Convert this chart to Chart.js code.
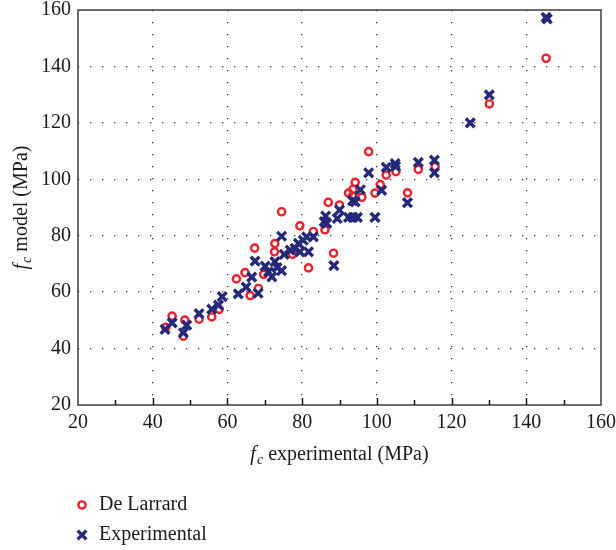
<!DOCTYPE html>
<html>
<head>
<meta charset="utf-8">
<script src="https://cdn.jsdelivr.net/npm/chart.js@4.4.1/dist/chart.umd.min.js"></script>
<style>
  body { margin: 0; background: #fff; }
</style>
</head>
<body>
<canvas id="myChart" width="616" height="550"></canvas>
<script>
// De Larrard model vs experimental strength (MPa)
const larrardX = [43.5, 45.2, 48.6, 48.2, 52.4, 55.8, 57.8, 62.4, 64.7, 66.1, 68.3, 67.3, 69.7, 72.7, 72.6, 74.5, 77.4, 79.4, 83.0, 81.7, 86.1, 87.0, 88.4, 90.0, 92.4, 93.6, 93.5, 94.2, 96.0, 97.8, 99.5, 100.9, 102.5, 105.1, 108.2, 111.1, 115.6, 130.1, 145.3];
const larrardY = [47.5, 51.5, 50.1, 44.4, 50.4, 51.2, 53.9, 64.7, 66.9, 58.8, 61.3, 75.6, 66.3, 77.2, 74.3, 88.5, 73.4, 83.5, 81.5, 68.6, 82.1, 91.8, 73.8, 90.9, 95.1, 96.4, 94.0, 98.9, 93.6, 109.8, 95.1, 98.1, 101.5, 102.7, 95.2, 103.5, 104.5, 126.7, 142.9];

const experimentalX = [43.3, 45.2, 49.1, 48.2, 52.4, 55.8, 57.6, 58.6, 62.9, 65.0, 66.5, 68.2, 67.4, 70.1, 71.0, 71.9, 72.7, 74.5, 73.3, 74.5, 75.2, 76.8, 78.1, 79.0, 80.3, 81.2, 79.4, 81.7, 83.0, 85.9, 86.3, 86.6, 88.5, 89.4, 90.0, 92.4, 93.6, 94.8, 93.5, 94.2, 95.6, 97.8, 99.5, 101.3, 102.5, 104.9, 105.0, 108.2, 111.1, 115.4, 115.4, 125.0, 130.1, 145.6, 145.3];
const experimentalY = [46.8, 49.1, 48.3, 45.6, 52.4, 54.0, 55.4, 58.4, 59.4, 61.8, 65.3, 59.6, 71.0, 69.2, 67.2, 65.4, 70.8, 67.6, 68.7, 79.8, 73.4, 74.9, 75.5, 77.3, 78.4, 79.6, 74.3, 74.3, 79.6, 85.0, 87.0, 84.4, 69.4, 86.1, 89.1, 86.5, 86.5, 86.5, 92.4, 92.0, 96.3, 102.3, 86.5, 96.1, 104.2, 105.6, 104.6, 91.7, 106.0, 106.8, 102.3, 120.0, 129.9, 156.8, 157.4];

const axisMin = 20;
const axisMax = 160;

const RED = '#e8232d';
const NAVY = '#25297a';
const SERIF = '"Liberation Serif", "DejaVu Serif", serif';

function toPoints(xs, ys) {
    return xs.map((x, i) => ({ x: x, y: ys[i] }));
}

function majorGrid(ctx) {
    const v = ctx.tick ? ctx.tick.value : null;
    if (v === null || v % 20 !== 0 || v <= axisMin || v >= axisMax) return 'rgba(0,0,0,0)';
    return '#333';
}

// box round the plot and inward tick marks on the bottom axis
const framePlugin = {
    id: 'frame',
    beforeDatasetsDraw(chart) {
        const { ctx, chartArea: a, scales } = chart;
        ctx.save();
        ctx.strokeStyle = '#3c3c3c';
        ctx.lineWidth = 1.5;
        ctx.strokeRect(a.left, a.top, a.right - a.left, a.bottom - a.top);
        ctx.strokeStyle = '#111';
        for (let v = axisMin + 10; v < axisMax; v += 10) {
            const px = Math.round(scales.x.getPixelForValue(v)) + 0.5;
            const len = v % 20 === 0 ? 7 : 5;
            ctx.beginPath();
            ctx.moveTo(px, a.bottom);
            ctx.lineTo(px, a.bottom - len);
            ctx.stroke();
        }
        ctx.restore();
    }
};

// axis titles with italic f and subscript c, plus the stacked legend
function drawFcLabel(ctx, rest, cx, cy) {
    const big = '20px ' + SERIF;
    const it = 'italic 20px ' + SERIF;
    const sub = 'italic 14px ' + SERIF;
    ctx.font = it; const wf = ctx.measureText('f').width;
    ctx.font = sub; const wc = ctx.measureText('c').width;
    ctx.font = big; const wr = ctx.measureText(rest).width;
    let x = cx - (wf + wc + 1 + wr) / 2;
    ctx.textBaseline = 'middle';
    ctx.textAlign = 'left';
    ctx.font = it; ctx.fillText('f', x, cy); x += wf + 1;
    ctx.font = sub; ctx.fillText('c', x, cy + 5); x += wc;
    ctx.font = big; ctx.fillText(rest, x, cy);
}

const labelPlugin = {
    id: 'labels',
    afterDraw(chart) {
        const { ctx, chartArea: a } = chart;
        ctx.save();
        ctx.fillStyle = '#1a1a1a';
        drawFcLabel(ctx, ' experimental (MPa)', (a.left + a.right) / 2, 455);
        ctx.save();
        ctx.translate(22, (a.top + a.bottom) / 2);
        ctx.rotate(-Math.PI / 2);
        drawFcLabel(ctx, ' model (MPa)', 0, 0);
        ctx.restore();

        const items = [chart.data.datasets[1], chart.data.datasets[0]];
        items.forEach((ds, i) => {
            const y = 505 + i * 30;
            ctx.strokeStyle = ds.borderColor;
            ctx.fillStyle = 'rgba(0,0,0,0)';
            ctx.lineWidth = ds.borderWidth;
            Chart.helpers.drawPoint(ctx, { pointStyle: ds.pointStyle, radius: ds.pointRadius, borderWidth: ds.borderWidth, rotation: 0 }, 82, y);
            ctx.fillStyle = '#1a1a1a';
            ctx.font = '20px ' + SERIF;
            ctx.textAlign = 'left';
            ctx.textBaseline = 'middle';
            ctx.fillText(ds.label, 99, y);
        });
        ctx.restore();
    }
};

const ctx = document.getElementById('myChart').getContext('2d');

const myChart = new Chart(ctx, {
    type: 'scatter',
    data: {
        datasets: [{
            label: 'Experimental',
            data: toPoints(experimentalX, experimentalY),
            pointStyle: 'crossRot',
            pointRadius: 6.2,
            borderWidth: 3.4,
            borderColor: NAVY,
            backgroundColor: NAVY,
            order: 0
        }, {
            label: 'De Larrard',
            data: toPoints(larrardX, larrardY),
            pointStyle: 'circle',
            pointRadius: 3.6,
            borderWidth: 2.4,
            borderColor: RED,
            backgroundColor: 'rgba(0,0,0,0)',
            order: 1
        }]
    },
    options: {
        responsive: false,
        animation: false,
        layout: { padding: { top: 10, right: 15, left: 0, bottom: 0 } },
        plugins: {
            legend: { display: false },
            tooltip: { enabled: false }
        },
        scales: {
            x: {
                type: 'linear',
                min: axisMin,
                max: axisMax,
                ticks: {
                    stepSize: 10,
                    autoSkip: false,
                    maxRotation: 0,
                    padding: 6,
                    color: '#1a1a1a',
                    font: { family: SERIF, size: 20 },
                    callback: v => (v % 20 === 0 ? v : '')
                },
                grid: { color: majorGrid, lineWidth: 1.3, drawTicks: false },
                border: { display: false, dash: [1.3, 10.7] },
                afterFit: s => { s.height = 145; s.paddingLeft = 0; s.paddingRight = 0; }
            },
            y: {
                type: 'linear',
                min: axisMin,
                max: axisMax,
                ticks: {
                    stepSize: 20,
                    padding: 7,
                    color: '#1a1a1a',
                    font: { family: SERIF, size: 20 }
                },
                grid: { color: majorGrid, lineWidth: 1.3, drawTicks: false },
                border: { display: false, dash: [1.3, 10.7] },
                afterFit: s => { s.width = 78; s.paddingTop = 0; s.paddingBottom = 0; }
            }
        }
    },
    plugins: [framePlugin, labelPlugin]
});
</script>
</body>
</html>
